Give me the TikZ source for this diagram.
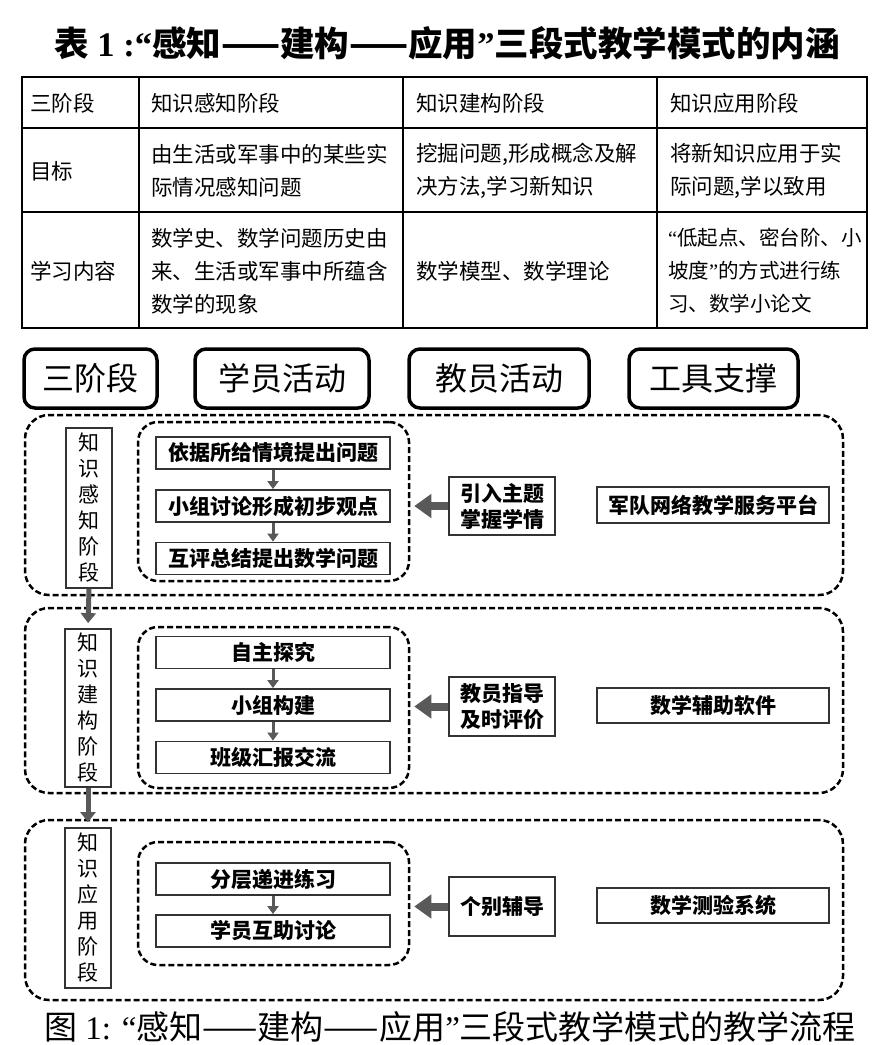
\documentclass[tikz,border=0pt]{standalone}
\usepackage{fontspec}
\setmainfont{Noto Sans CJK SC}
\newfontfamily\lser{Liberation Serif}
\newcommand\myoq{{\lser “}}
\newcommand\mycq{{\lser ”}}
\usetikzlibrary{arrows.meta}
\tikzset{
  tbl/.style={line width=1.3pt, draw=black},
  ttxt/.style={anchor=west, inner sep=0pt, align=left, font=\fontsize{21.5}{33}\selectfont},
  headbox/.style={draw=black, line width=3.5pt, rounded corners=11pt, minimum height=59pt, inner sep=0pt, font=\fontsize{32}{38}\selectfont},
  stagebox/.style={draw=black, line width=2.5pt, dash pattern=on 6pt off 3pt, rounded corners=24pt, minimum width=818pt, inner sep=0pt},
  innerbox/.style={draw=black, line width=2.5pt, dash pattern=on 6pt off 3pt, rounded corners=20pt, minimum width=271pt, inner sep=0pt},
  labelbox/.style={draw=black!80, line width=1.8pt, minimum width=46pt, inner sep=0pt, align=center, font=\fontsize{21}{26}\selectfont},
  actbox/.style={draw=black!80, line width=1.8pt, minimum width=234pt, minimum height=32pt, inner sep=0pt, font=\fontsize{21}{25}\selectfont\bfseries},
  teachbox/.style={draw=black!80, line width=1.8pt, minimum width=106pt, inner sep=0pt, align=center, font=\fontsize{21}{26}\selectfont\bfseries},
  toolbox/.style={draw=black!80, line width=1.8pt, minimum width=232pt, inner sep=0pt, font=\fontsize{21}{25}\selectfont\bfseries},
  smallarrow/.style={draw=black!65, line width=3pt, -{Triangle[length=8pt,width=11pt]}},
  stagearrow/.style={draw=black!65, line width=5pt, -{Triangle[length=10pt,width=15pt]}, shorten >=5pt},
  bigarrow/.style={draw=black!65, line width=8pt, -{Triangle[length=17pt,width=23pt]}, shorten >=4pt}
}
\begin{document}
\begin{tikzpicture}[x=1pt,y=-1pt]
\useasboundingbox (0,0) rectangle (880,1045);
% title
\node (title) at (447,43) {\fontsize{34.5}{40}\selectfont\bfseries 表{\lser~1 :}\myoq 感知——建构——应用\mycq 三段式教学模式的内涵};
% table grid
\draw[tbl] (22,77) rectangle (867,328);
\draw[tbl] (22,128) -- (867,128);
\draw[tbl] (22,212) -- (867,212);
\draw[tbl] (139,77) -- (139,328);
\draw[tbl] (403,77) -- (403,328);
\draw[tbl] (657,77) -- (657,328);
% table text
\node[ttxt] (r1c0) at (30,103) {三阶段};
\node[ttxt] (r1c1) at (151,103) {知识感知阶段};
\node[ttxt] (r1c2) at (416,103) {知识建构阶段};
\node[ttxt] (r1c3) at (670,103) {知识应用阶段};
\node[ttxt] (r2c0) at (30,171) {目标};
\node[ttxt] (r2c1) at (151,171) {由生活或军事中的某些实\\际情况感知问题};
\node[ttxt] (r2c2) at (416,171) {挖掘问题,形成概念及解\\决方法,学习新知识};
\node[ttxt] (r2c3) at (670,171) {将新知识应用于实\\际问题,学以致用};
\node[ttxt] (r3c0) at (30,271) {学习内容};
\node[ttxt] (r3c1) at (151,271) {数学史、数学问题历史由\\来、生活或军事中所蕴含\\数学的现象};
\node[ttxt] (r3c2) at (416,271) {数学模型、数学理论};
\node[ttxt, font=\fontsize{20.5}{33}\selectfont] (r3c3) at (668,271) {\myoq 低起点、密台阶、小\\坡度\mycq 的方式进行练\\习、数学小论文};
% header boxes
\node[headbox, minimum width=133pt] (h1) at (90.5,378.5) {三阶段};
\node[headbox, minimum width=174pt] (h2) at (282,378.5) {学员活动};
\node[headbox, minimum width=180pt] (h3) at (499,378.5) {教员活动};
\node[headbox, minimum width=169pt] (h4) at (713.5,378.5) {工具支撑};
% stage frames
\node[stagebox, minimum height=180pt] (s1) at (434,505) {};
\node[stagebox, minimum height=185pt] (s2) at (434,700.5) {};
\node[stagebox, minimum height=180pt] (s3) at (434,910) {};
% stage labels
\node[labelbox, minimum height=160pt] (l1) at (89,508) {知\\识\\感\\知\\阶\\段};
\node[labelbox, minimum height=158pt] (l2) at (88,708) {知\\识\\建\\构\\阶\\段};
\node[labelbox, minimum height=160pt] (l3) at (88,908) {知\\识\\应\\用\\阶\\段};
% inner frames
\node[innerbox, minimum height=159pt] (i1) at (273.5,501.5) {};
\node[innerbox, minimum height=161pt] (i2) at (273.5,707.5) {};
\node[innerbox, minimum height=123pt] (i3) at (273.5,903.5) {};
% student activity boxes
\node[actbox] (a1) at (273,453) {依据所给情境提出问题};
\node[actbox] (a2) at (273,506) {小组讨论形成初步观点};
\node[actbox] (a3) at (273,558.5) {互评总结提出数学问题};
\node[actbox] (b1) at (273,652.5) {自主探究};
\node[actbox] (b2) at (273,705) {小组构建};
\node[actbox] (b3) at (273,757.5) {班级汇报交流};
\node[actbox] (c1) at (273,879) {分层递进练习};
\node[actbox] (c2) at (273,931) {学员互助讨论};
% teacher boxes
\node[teachbox, minimum height=58pt] (t1) at (502,506) {引入主题\\掌握学情};
\node[teachbox, minimum height=59pt] (t2) at (502,706.5) {教员指导\\及时评价};
\node[teachbox, minimum height=59pt] (t3) at (502,906.5) {个别辅导};
% tool boxes
\node[toolbox, minimum height=36pt] (k1) at (713,505) {军队网络教学服务平台};
\node[toolbox, minimum height=35pt] (k2) at (713,705.5) {数学辅助软件};
\node[toolbox, minimum height=35pt] (k3) at (713,905.5) {数学测验系统};
% arrows
\draw[smallarrow] (a1.south) -- (a2.north);
\draw[smallarrow] (a2.south) -- (a3.north);
\draw[smallarrow] (b1.south) -- (b2.north);
\draw[smallarrow] (b2.south) -- (b3.north);
\draw[smallarrow] (c1.south) -- (c2.north);
\draw[bigarrow] (t1.west) -- (t1.west -| i1.east);
\draw[bigarrow] (t2.west) -- (t2.west -| i2.east);
\draw[bigarrow] (t3.west) -- (t3.west -| i3.east);
\draw[stagearrow] (l1.south) -- (l2.north);
\draw[stagearrow] (l2.south) -- (l3.north);
% caption
\node (cap) at (450,1027) {\fontsize{33}{38}\selectfont 图{\lser~1: }\myoq 感知——建构——应用\mycq 三段式教学模式的教学流程};
\end{tikzpicture}
\end{document}
